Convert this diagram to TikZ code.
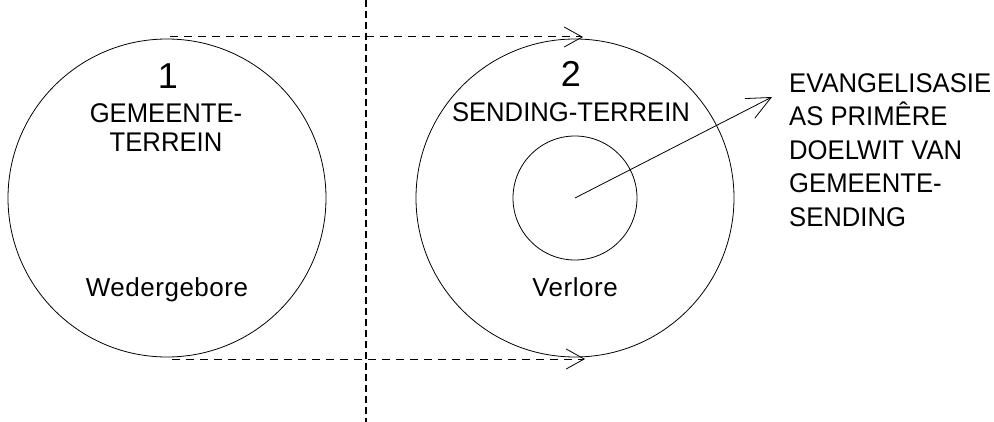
\documentclass[tikz,border=0pt]{standalone}
\usepackage{fontspec}
\setmainfont{Liberation Sans}
\newfontfamily\labfont[FakeStretch=0.95]{Liberation Sans}
\newfontfamily\lowfont[LetterSpace=2]{Liberation Sans}
\usetikzlibrary{arrows.meta}
\begin{document}
\begin{tikzpicture}[x=1pt,y=-1pt,
  ring/.style={circle,draw,line width=0.8pt,inner sep=0pt},
  lbl/.style={inner sep=0pt,anchor=base,font=\labfont\fontsize{27}{33.5}\selectfont},
  lower/.style={inner sep=0pt,anchor=base,font=\lowfont\fontsize{26}{30}\selectfont},
  num/.style={inner sep=0pt,anchor=base,font=\fontsize{36}{40}\selectfont},
  dashh/.style={line width=1pt,dash pattern=on 8pt off 6pt,-{Straight Barb[length=18pt,width=20pt,line width=0.8pt]}},
  dashv/.style={line width=1.1pt,dash pattern=on 7pt off 4pt},
  pointer/.style={line width=0.8pt,-{Straight Barb[length=24pt,width=22pt,line width=0.8pt]}}
]
\useasboundingbox (0,0) rectangle (994,422);
% circles
\node[ring,minimum size=318pt] (c1) at (167,198) {};
\node[ring,minimum size=318pt] (c2) at (575,198) {};
\node[ring,minimum size=124pt] (c2in) at (575,198) {};
% dashed divider
\coordinate (vtop) at (366,0);
\coordinate (vbot) at (366,422);
\draw[dashv] (vtop) -- (vbot);
% dashed arrows
\coordinate (t1) at (170,37);
\coordinate (t2) at (583,37);
\coordinate (b1) at (172,359);
\coordinate (b2) at (585,359);
\draw[dashh] (t1) -- (t2);
\draw[dashh] (b1) -- (b2);
% labels left
\node[num] (n1) at (168,89) {1};
\node[lbl] (g1) at (166,123) {GEMEENTE-};
\node[lbl] (g2) at (166,152) {TERREIN};
\node[lower] (w) at (167,297) {Wedergebore};
% labels right
\node[num] (n2) at (571,87) {2};
\node[lbl] (s1) at (571,122) {SENDING-TERREIN};
\node[lower] (v) at (575,297) {Verlore};
% pointer and note
\coordinate (tip) at (772,97);
\draw[pointer] (c2in.center) -- (tip);
\node[lbl,anchor=north west,align=left] (note) at (789,73) {EVANGELISASIE\\AS PRIMÊRE\\DOELWIT VAN\\GEMEENTE-\\SENDING};
\end{tikzpicture}
\end{document}
